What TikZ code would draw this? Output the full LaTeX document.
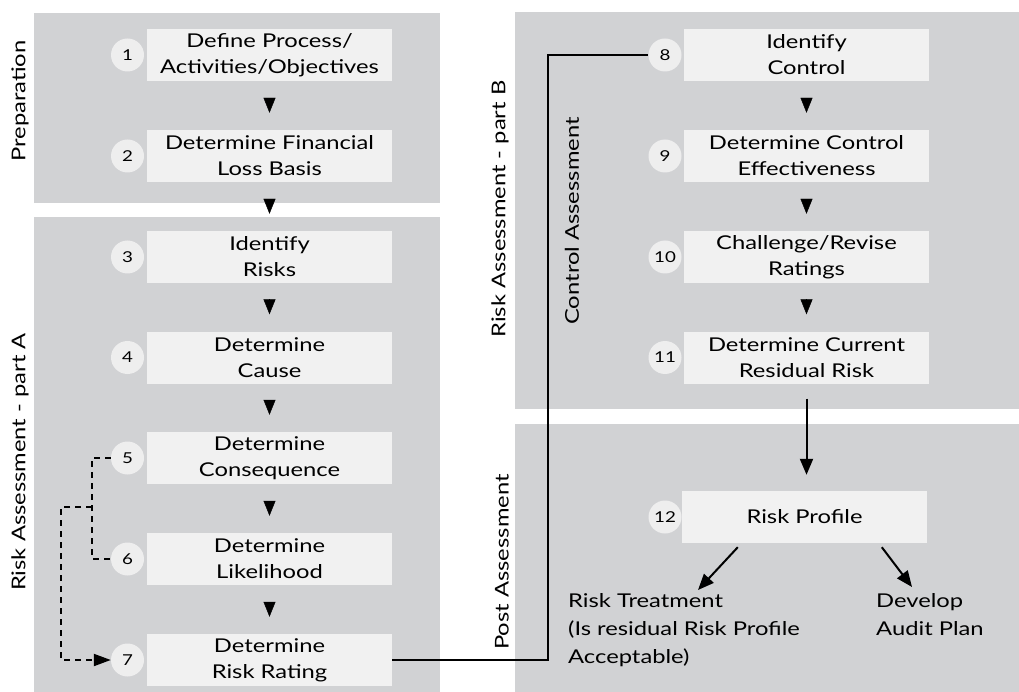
\documentclass[tikz,border=0pt]{standalone}
\usepackage{fontspec}
\setmainfont{Lato}[FakeStretch=1.25]
\usetikzlibrary{arrows.meta}
\definecolor{panelgray}{HTML}{D1D2D4}
\definecolor{boxgray}{HTML}{F1F1F1}
\definecolor{numgray}{HTML}{EEEEEE}
\begin{document}
\begin{tikzpicture}[x=1pt,y=-1pt,
  panel/.style={fill=panelgray, draw=none},
  stepbox/.style={fill=boxgray, minimum width=245pt, minimum height=52pt,
    inner sep=0pt, align=center, font=\fontsize{19}{26}\selectfont},
  numdot/.style={circle, fill=numgray, minimum size=33pt, inner sep=0pt,
    font=\fontsize{15}{16}\selectfont},
  sidelabel/.style={rotate=90, inner sep=0pt, font=\fontsize{19}{22}\selectfont},
  outtext/.style={align=left, inner sep=0pt, anchor=north west,
    font=\fontsize{19}{28}\selectfont},
  flowtip/.style={-{Triangle[length=15pt,width=12pt]}, line width=0.4pt,
    shorten <=17pt, shorten >=17pt},
  link/.style={line width=2pt},
  dashlink/.style={line width=2pt, dash pattern=on 6pt off 5pt},
  bigtip/.style={-{Triangle[length=16pt,width=13pt]}},
]
% canvas
\fill[white] (0,0) rectangle (1019,692);
\useasboundingbox (0,0) rectangle (1019,692);

% phase panels
\fill[panel] (34,13) rectangle (440,203);
\fill[panel] (34,217) rectangle (440,692);
\fill[panel] (515,12) rectangle (1019,409);
\fill[panel] (515,424) rectangle (1019,692);

% phase labels
\node[sidelabel] (lprep) at (20,101) {Preparation};
\node[sidelabel] (lparta) at (20,462) {Risk Assessment - part A};
\node[sidelabel] (lpartb) at (500,209) {Risk Assessment - part B};
\node[sidelabel] (lctrl) at (572,221) {Control Assessment};
\node[sidelabel] (lpost) at (502,562) {Post Assessment};

% left column steps
\node[stepbox] (b1) at (269.5,55)    {Define Process/\\Activities/Objectives};
\node[stepbox] (b2) at (269.5,156)   {Determine Financial\\Loss Basis};
\node[stepbox] (b3) at (269.5,257)   {Identify\\Risks};
\node[stepbox] (b4) at (269.5,357.5) {Determine\\Cause};
\node[stepbox] (b5) at (269.5,458)   {Determine\\Consequence};
\node[stepbox] (b6) at (269.5,559)   {Determine\\Likelihood};
\node[stepbox] (b7) at (269.5,660)   {Determine\\Risk Rating};

\foreach \k/\y in {1/55,2/156,3/257,4/357.5,5/458,6/559,7/660}
  \node[numdot] (c\k) at (127.5,\y) {\k};

% right column steps
\node[stepbox] (b8)  at (806.5,55)    {Identify\\Control};
\node[stepbox] (b9)  at (806.5,156)   {Determine Control\\Effectiveness};
\node[stepbox] (b10) at (806.5,257)   {Challenge/Revise\\Ratings};
\node[stepbox] (b11) at (806.5,357.5) {Determine Current\\Residual Risk};
\node[stepbox] (b12) at (804.5,517)   {Risk Profile};

\foreach \k/\y in {8/55,9/156,10/257,11/357.5,12/517}
  \node[numdot] (c\k) at (665,\y) {\k};

% outcomes
\node[outtext] (treat) at (568,593) {Risk Treatment\\(Is residual Risk Profile\\Acceptable)};
\node[outtext] (audit) at (876,593) {Develop\\Audit Plan};

% flow markers between steps
\foreach \a/\b in {b1/b2,b2/b3,b3/b4,b4/b5,b5/b6,b6/b7,b8/b9,b9/b10,b10/b11}
  \draw[flowtip] (\a.south) -- (\b.north);

% consequence and likelihood feed the risk rating
\coordinate (j1) at (92,507);
\coordinate (j2) at (61,507);
\draw[dashlink] (c5.west) -- (c5.west -| j1) -- (c6.west -| j1) -- (c6.west);
\draw[dashlink, -{Triangle[length=17pt,width=12pt]}] (j1) -- (j2) |- (c7.west);

% risk rating carries over to control identification
\coordinate (riser) at (548,0);
\draw[link] (b7.east) -- (b7.east -| riser) -- (riser |- c8.west) -- (c8.west);

% residual risk into the profile
\draw[link, bigtip, shorten <=15pt, shorten >=16pt]
  (b11.south) -- (b11.south |- b12.north);

% profile outcomes
\draw[link, bigtip] ([shift={(56,4)}]b12.south west) -- ([shift={(130,-3)}]treat.north west);
\draw[link, bigtip] ([shift={(200,4)}]b12.south west) -- ([shift={(36,-6)}]audit.north west);
\end{tikzpicture}
\end{document}
